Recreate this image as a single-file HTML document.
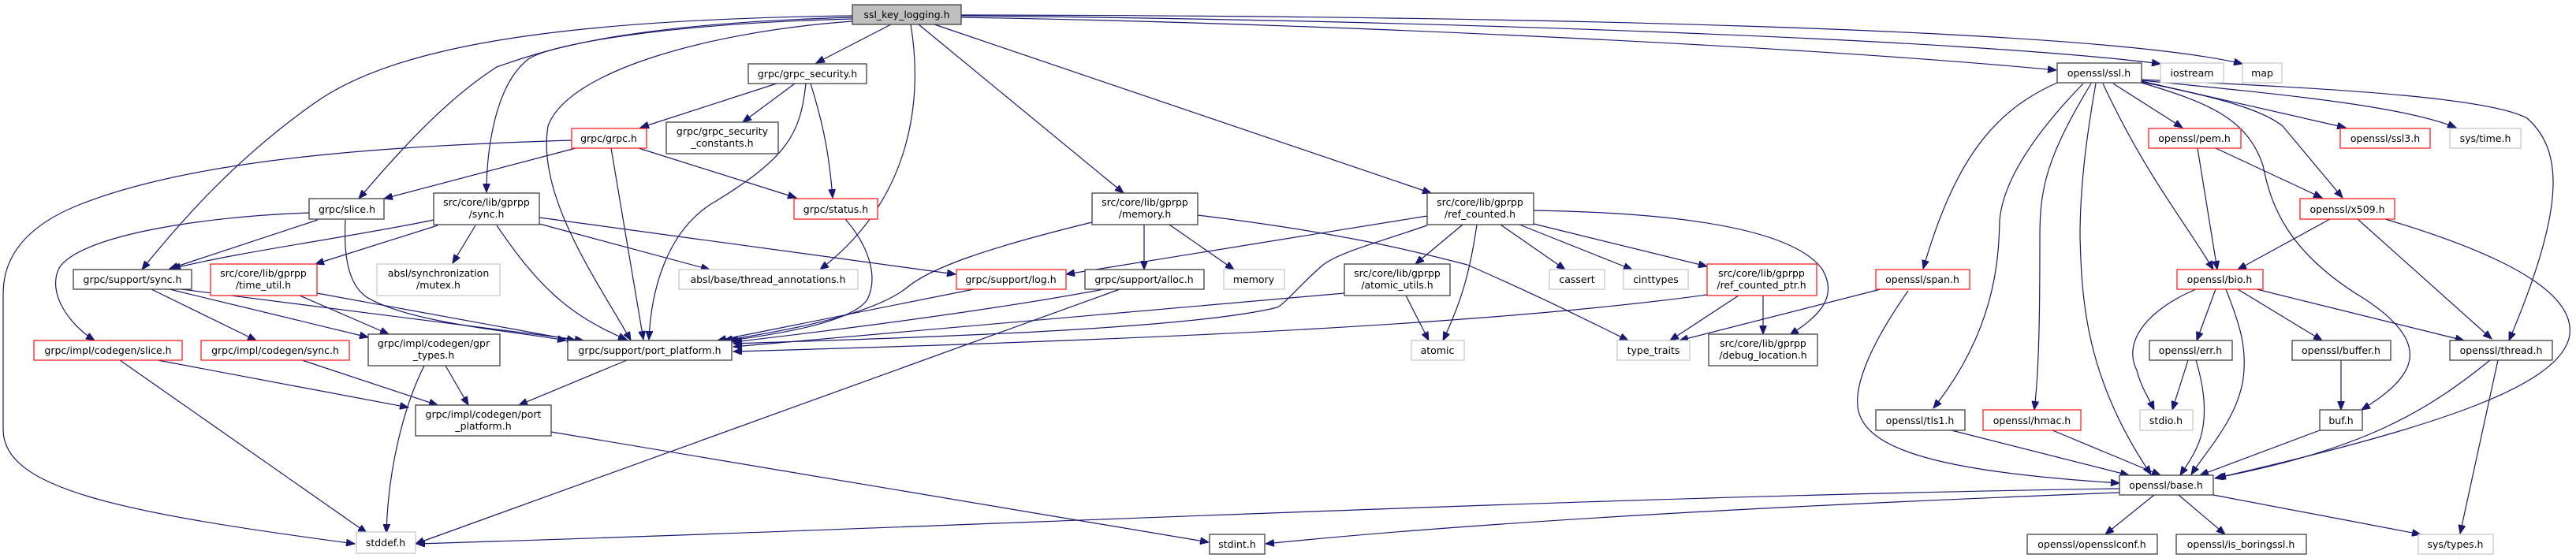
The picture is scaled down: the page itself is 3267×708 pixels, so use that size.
<!DOCTYPE html>
<html><head><meta charset="utf-8"><style>
html,body{margin:0;padding:0;background:#fff;}
svg{display:block;}
text{font-family:"DejaVu Sans","Liberation Sans",sans-serif;font-size:12.5px;fill:#000;text-anchor:middle;}
.e{fill:none;stroke:#191970;stroke-width:1.2;marker-end:url(#a);}
.n{fill:#fff;stroke:#404040;stroke-width:1.3;}
.r{fill:#fff;stroke:#ff2020;stroke-width:1.3;}
.g{fill:#fff;stroke:#c8c8c8;stroke-width:1.3;}
</style></head><body>
<svg width="3267" height="708" viewBox="0 0 3267 708" xmlns="http://www.w3.org/2000/svg">
<defs><marker id="a" markerWidth="12" markerHeight="9" refX="11" refY="4.5" orient="auto" markerUnits="userSpaceOnUse"><path d="M0,0 L11,4.5 L0,9 z" fill="#191970" stroke="#191970"/></marker></defs>

<!-- edges -->
<path class="e" d="M1219,22 C1700,30 2300,60 2608,89"/>
<path class="e" d="M1219,20 C1800,25 2500,50 2740,81"/>
<path class="e" d="M1219,19 C1900,20 2650,35 2844,81"/>
<path class="e" d="M1130,31 L1035,80"/>
<path class="e" d="M1155,31 C1170,120 1160,250 1040,342"/>
<path class="e" d="M1165,31 L1425,245"/>
<path class="e" d="M1185,31 L1815,245"/>
<path class="e" d="M1081,27 C900,40 720,90 695,160 C680,250 760,360 800,432"/>
<path class="e" d="M1081,20 C700,25 500,60 400,130 C300,200 230,280 180,342"/>
<path class="e" d="M1081,22 C800,30 700,60 630,85 C560,130 500,200 455,252"/>
<path class="e" d="M1081,24 C850,30 700,55 670,75 C625,110 617,200 617,244"/>

<path class="e" d="M985,106 L812,162"/>
<path class="e" d="M1008,106 L942,155"/>
<path class="e" d="M1022,106 C1015,170 1000,200 900,260 C840,300 825,380 823,431"/>
<path class="e" d="M1028,106 C1045,160 1052,200 1056,251"/>

<path class="e" d="M730,188 L487,252"/>
<path class="e" d="M810,188 L1010,251"/>
<path class="e" d="M775,188 L816,431"/>
<path class="e" d="M725,178 C500,185 250,200 100,260 C0,300 4,360 4,380 L4,545 C4,620 150,650 450,690"/>

<path class="e" d="M403,279 L215,341"/>
<path class="e" d="M392,270 C250,275 100,300 75,340 C60,370 85,410 120,432"/>
<path class="e" d="M438,279 C436,320 440,360 465,377 C520,410 650,420 718,432"/>

<path class="e" d="M550,279 C450,300 300,320 218,341"/>
<path class="e" d="M555,286 L400,335"/>
<path class="e" d="M603,286 L574,334"/>
<path class="e" d="M630,286 C680,360 720,400 795,431"/>
<path class="e" d="M684,284 L900,342"/>
<path class="e" d="M684,276 L1212,348"/>

<path class="e" d="M192,367 L325,432"/>
<path class="e" d="M215,367 L467,428"/>
<path class="e" d="M230,367 L740,432"/>
<path class="e" d="M380,375 L493,424"/>
<path class="e" d="M402,372 L730,432"/>

<path class="e" d="M152,457 L465,676"/>
<path class="e" d="M200,457 L518,517"/>
<path class="e" d="M383,457 L555,514"/>
<path class="e" d="M565,464 L594,514"/>
<path class="e" d="M538,464 C510,520 492,600 490,676"/>
<path class="e" d="M795,457 L658,514"/>
<path class="e" d="M699,548 L1533,688"/>

<path class="e" d="M1072,278 C1100,310 1115,350 1100,380 C1080,410 980,425 925,432"/>
<path class="e" d="M1235,367 L910,432"/>
<path class="e" d="M1385,282 C1250,315 1180,340 1150,365 C1100,405 960,425 918,432"/>
<path class="e" d="M1451,285 L1451,342"/>
<path class="e" d="M1483,285 L1565,342"/>
<path class="e" d="M1519,273 C1700,295 1800,320 1861,336 C1950,375 2000,400 2065,432"/>
<path class="e" d="M1400,367 C1250,395 1050,420 930,434"/>
<path class="e" d="M1420,367 L527,690"/>

<path class="e" d="M1810,274 L1352,348"/>
<path class="e" d="M1810,286 C1740,310 1700,320 1678,336 C1650,360 1630,385 1620,390 C1500,420 1100,430 930,436"/>
<path class="e" d="M1855,285 L1795,335"/>
<path class="e" d="M1873,285 C1865,340 1855,380 1830,432"/>
<path class="e" d="M1903,285 L1985,342"/>
<path class="e" d="M1927,285 L2070,342"/>
<path class="e" d="M1945,284 L2165,338"/>
<path class="e" d="M1945,267 C2130,270 2270,290 2310,340 C2335,380 2300,405 2270,425"/>
<path class="e" d="M1783,375 L1812,432"/>
<path class="e" d="M1705,372 L930,440"/>
<path class="e" d="M2165,374 C1900,410 1500,430 930,446"/>
<path class="e" d="M2205,375 L2118,432"/>
<path class="e" d="M2236,375 L2236,424"/>

<path class="e" d="M2385,367 L2130,432"/>
<path class="e" d="M2420,369 C2370,440 2345,500 2360,530 C2380,575 2480,600 2688,613"/>

<path class="e" d="M2609,105 C2530,140 2480,200 2439,341"/>
<path class="e" d="M2642,106 C2580,170 2540,230 2536,280 C2535,330 2530,420 2452,518"/>
<path class="e" d="M2652,106 C2595,200 2587,240 2587,300 C2587,400 2586,470 2580,520"/>
<path class="e" d="M2658,106 C2645,180 2638,240 2638,300 C2640,380 2645,480 2728,602"/>
<path class="e" d="M2667,106 C2720,220 2770,280 2807,342"/>
<path class="e" d="M2680,106 L2768,162"/>
<path class="e" d="M2716,104 C2820,125 2870,140 2895,160 C2920,190 2945,220 2971,251"/>
<path class="e" d="M2716,105 C2800,130 2850,150 2870,210 C2880,260 2900,320 3000,380 C3090,440 3060,480 2995,520"/>
<path class="e" d="M2716,103 L2975,162"/>
<path class="e" d="M2716,102 C2900,120 3050,135 3115,162"/>
<path class="e" d="M2716,101 C2900,110 3150,120 3205,150 C3250,190 3255,260 3182,432"/>

<path class="e" d="M2787,188 L2812,342"/>
<path class="e" d="M2810,188 L2945,251"/>
<path class="e" d="M2955,278 L2838,342"/>
<path class="e" d="M2990,278 L3160,430"/>
<path class="e" d="M3025,278 C3200,330 3270,380 3258,430 C3240,490 3100,540 2809,607"/>

<path class="e" d="M2785,367 C2730,390 2690,430 2710,470 C2715,490 2725,505 2732,520"/>
<path class="e" d="M2810,367 L2786,432"/>
<path class="e" d="M2823,367 C2840,410 2850,440 2845,480 C2838,530 2800,570 2779,602"/>
<path class="e" d="M2838,367 L2945,432"/>
<path class="e" d="M2862,367 L3125,432"/>
<path class="e" d="M2775,457 L2755,520"/>
<path class="e" d="M2785,457 C2798,500 2800,540 2785,570 C2778,585 2770,595 2765,603"/>
<path class="e" d="M2969,457 L2969,520"/>
<path class="e" d="M3158,457 C3080,520 3000,570 2812,606"/>
<path class="e" d="M3168,457 L3120,677"/>
<path class="e" d="M2475,546 L2700,603"/>
<path class="e" d="M2603,546 L2740,603"/>
<path class="e" d="M2942,546 L2790,603"/>
<path class="e" d="M2732,628 L2670,678"/>
<path class="e" d="M2763,628 L2822,678"/>
<path class="e" d="M2807,628 L3070,678"/>
<path class="e" d="M2688,625 C2300,640 1900,660 1605,690"/>
<path class="e" d="M2688,620 C2000,630 1200,670 528,690"/>

<!-- nodes -->
<rect x="1081" y="6" width="138" height="25" fill="#bfbfbf" stroke="#404040" stroke-width="1.3"/><text x="1150" y="23">ssl_key_logging.h</text>
<rect class="n" x="949" y="81" width="150" height="25"/><text x="1024" y="98">grpc/grpc_security.h</text>
<rect class="n" x="845" y="155" width="142" height="40"/><text x="916" y="171">grpc/grpc_security</text><text x="916" y="186">_constants.h</text>
<rect class="r" x="725" y="163" width="95" height="25"/><text x="772" y="180">grpc/grpc.h</text>
<rect class="n" x="392" y="252" width="95" height="26"/><text x="440" y="270">grpc/slice.h</text>
<rect class="n" x="550" y="245" width="134" height="40"/><text x="617" y="261">src/core/lib/gprpp</text><text x="617" y="276">/sync.h</text>
<rect class="r" x="1007" y="252" width="106" height="26"/><text x="1060" y="270">grpc/status.h</text>
<rect class="n" x="1385" y="245" width="134" height="40"/><text x="1452" y="261">src/core/lib/gprpp</text><text x="1452" y="276">/memory.h</text>
<rect class="n" x="1810" y="245" width="135" height="40"/><text x="1877" y="261">src/core/lib/gprpp</text><text x="1877" y="276">/ref_counted.h</text>
<rect class="n" x="93" y="342" width="150" height="25"/><text x="168" y="359">grpc/support/sync.h</text>
<rect class="r" x="267" y="335" width="135" height="40"/><text x="334" y="351">src/core/lib/gprpp</text><text x="334" y="366">/time_util.h</text>
<rect class="g" x="478" y="335" width="156" height="40"/><text x="556" y="351">absl/synchronization</text><text x="556" y="366">/mutex.h</text>
<rect class="g" x="861" y="342" width="227" height="25"/><text x="974" y="359">absl/base/thread_annotations.h</text>
<rect class="r" x="1213" y="342" width="139" height="25"/><text x="1282" y="359">grpc/support/log.h</text>
<rect class="n" x="1376" y="342" width="151" height="25"/><text x="1451" y="359">grpc/support/alloc.h</text>
<rect class="g" x="1552" y="342" width="77" height="25"/><text x="1590" y="359">memory</text>
<rect class="n" x="1705" y="335" width="134" height="40"/><text x="1772" y="351">src/core/lib/gprpp</text><text x="1772" y="366">/atomic_utils.h</text>
<rect class="g" x="1965" y="342" width="70" height="25"/><text x="2000" y="359">cassert</text>
<rect class="g" x="2059" y="342" width="82" height="25"/><text x="2100" y="359">cinttypes</text>
<rect class="r" x="2165" y="335" width="139" height="40"/><text x="2234" y="351">src/core/lib/gprpp</text><text x="2234" y="366">/ref_counted_ptr.h</text>
<rect class="r" x="2379" y="342" width="119" height="25"/><text x="2438" y="359">openssl/span.h</text>
<rect class="n" x="2609" y="80" width="107" height="25"/><text x="2662" y="97">openssl/ssl.h</text>
<rect class="g" x="2740" y="80" width="80" height="25"/><text x="2780" y="97">iostream</text>
<rect class="g" x="2844" y="80" width="50" height="25"/><text x="2869" y="97">map</text>
<rect class="r" x="2725" y="163" width="117" height="25"/><text x="2783" y="180">openssl/pem.h</text>
<rect class="r" x="2968" y="163" width="114" height="25"/><text x="3025" y="180">openssl/ssl3.h</text>
<rect class="g" x="3107" y="163" width="90" height="25"/><text x="3152" y="180">sys/time.h</text>
<rect class="r" x="2917" y="252" width="120" height="26"/><text x="2977" y="270">openssl/x509.h</text>
<rect class="r" x="2761" y="342" width="109" height="25"/><text x="2815" y="359">openssl/bio.h</text>
<rect class="r" x="43" y="432" width="188" height="25"/><text x="137" y="449">grpc/impl/codegen/slice.h</text>
<rect class="r" x="255" y="432" width="188" height="25"/><text x="349" y="449">grpc/impl/codegen/sync.h</text>
<rect class="n" x="467" y="424" width="167" height="40"/><text x="550" y="440">grpc/impl/codegen/gpr</text><text x="550" y="455">_types.h</text>
<rect class="n" x="720" y="432" width="208" height="25"/><text x="824" y="449">grpc/support/port_platform.h</text>
<rect class="g" x="1790" y="432" width="67" height="25"/><text x="1823" y="449">atomic</text>
<rect class="g" x="2051" y="432" width="92" height="25"/><text x="2097" y="449">type_traits</text>
<rect class="n" x="2167" y="424" width="138" height="40"/><text x="2236" y="440">src/core/lib/gprpp</text><text x="2236" y="455">/debug_location.h</text>
<rect class="n" x="2726" y="432" width="105" height="25"/><text x="2778" y="449">openssl/err.h</text>
<rect class="n" x="2907" y="432" width="125" height="25"/><text x="2969" y="449">openssl/buffer.h</text>
<rect class="n" x="3107" y="432" width="130" height="25"/><text x="3172" y="449">openssl/thread.h</text>
<rect class="n" x="527" y="514" width="172" height="39"/><text x="613" y="530">grpc/impl/codegen/port</text><text x="613" y="545">_platform.h</text>
<rect class="n" x="2379" y="520" width="113" height="26"/><text x="2435" y="538">openssl/tls1.h</text>
<rect class="r" x="2515" y="520" width="124" height="26"/><text x="2577" y="538">openssl/hmac.h</text>
<rect class="g" x="2714" y="520" width="67" height="26"/><text x="2747" y="538">stdio.h</text>
<rect class="n" x="2942" y="520" width="54" height="26"/><text x="2969" y="538">buf.h</text>
<rect class="n" x="2688" y="603" width="119" height="25"/><text x="2747" y="620">openssl/base.h</text>
<rect class="g" x="452" y="675" width="75" height="27"/><text x="489" y="693">stddef.h</text>
<rect class="n" x="1534" y="678" width="70" height="25"/><text x="1569" y="695">stdint.h</text>
<rect class="n" x="2571" y="678" width="165" height="25"/><text x="2653" y="695">openssl/opensslconf.h</text>
<rect class="n" x="2760" y="678" width="165" height="25"/><text x="2842" y="695">openssl/is_boringssl.h</text>
<rect class="g" x="3067" y="678" width="95" height="25"/><text x="3114" y="695">sys/types.h</text>
</svg>
</body></html>
